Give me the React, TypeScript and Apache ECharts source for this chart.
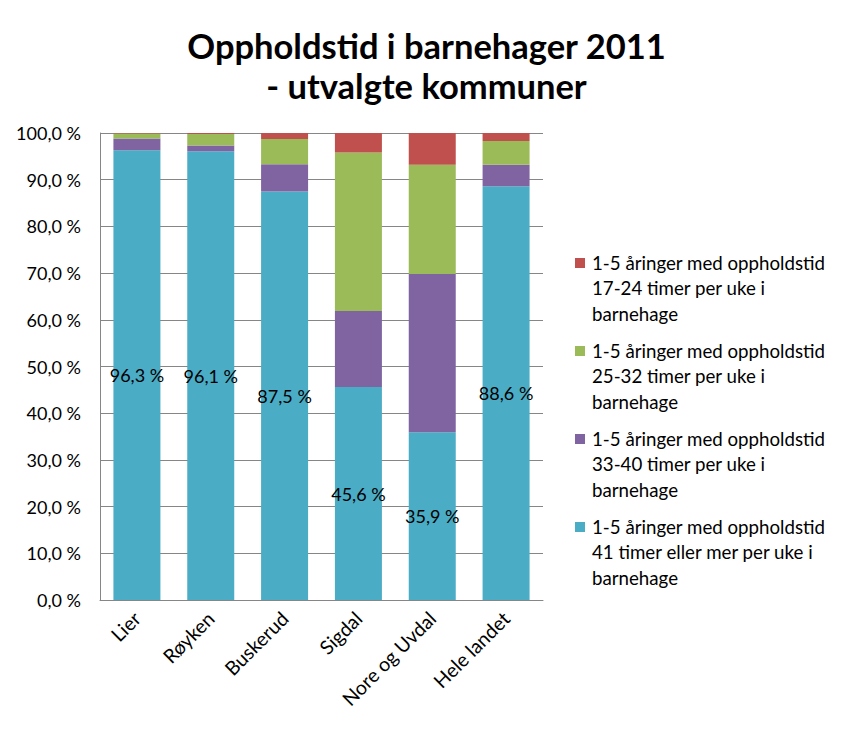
import React, { useEffect, useRef } from "react";
import * as echarts from "echarts";

const categories = ["Lier", "Røyken", "Buskerud", "Sigdal", "Nore og Uvdal", "Hele landet"];
const blue41 = [96.3, 96.1, 87.5, 45.6, 35.9, 88.6];
const purple33 = [2.5, 1.2, 5.8, 16.3, 33.9, 4.6];
const green25 = [1.1, 2.5, 5.4, 33.9, 23.4, 5.1];
const red17 = [0.1, 0.2, 1.3, 4.2, 6.8, 1.7];
const yTicks = [0, 10, 20, 30, 40, 50, 60, 70, 80, 90, 100];

const seriesNames = [
  "1-5 åringer med oppholdstid 41 timer eller mer per uke i barnehage",
  "1-5 åringer med oppholdstid 33-40 timer per uke i barnehage",
  "1-5 åringer med oppholdstid 25-32 timer per uke i barnehage",
  "1-5 åringer med oppholdstid 17-24 timer per uke i barnehage",
];
const legendLines = [
  ["1-5 åringer med oppholdstid", "17-24 timer per uke i", "barnehage"],
  ["1-5 åringer med oppholdstid", "25-32 timer per uke i", "barnehage"],
  ["1-5 åringer med oppholdstid", "33-40 timer per uke i", "barnehage"],
  ["1-5 åringer med oppholdstid", "41 timer eller mer per uke i", "barnehage"],
];
const colors = ["#4BACC6", "#8064A2", "#9BBB59", "#C0504D"];
const legendColors = ["#C0504D", "#9BBB59", "#8064A2", "#4BACC6"];

const FONT = "Lato, 'Open Sans', sans-serif";
const fmt = (v: number) => v.toFixed(1).replace(".", ",") + " %";

export default function App() {
  const ref = useRef<HTMLDivElement>(null);
  useEffect(() => {
    if (!ref.current) return;
    const chart = echarts.init(ref.current, null, { renderer: "svg" });
    const data = [blue41, purple33, green25, red17];
    const graphic: any[] = [];
    legendLines.forEach((lines, i) => {
      const top = 258 + i * 88;
      graphic.push({
        type: "rect",
        shape: { x: 575, y: top, width: 10, height: 10 },
        style: { fill: legendColors[i] },
      });
      graphic.push({
        type: "text",
        x: 592,
        y: top - 8,
        style: {
          text: lines.join("\n"),
          font: `18.7px ${FONT}`,
          lineHeight: 25.5,
          fill: "#000",
        },
      });
    });
    chart.setOption({
      animation: false,
      backgroundColor: "#fff",
      title: {
        text: "Oppholdstid i barnehager 2011\n- utvalgte kommuner",
        left: "center",
        top: 20,
        textStyle: {
          fontFamily: FONT,
          fontWeight: "bold",
          fontSize: 34.5,
          lineHeight: 40,
          color: "#000",
        },
      },
      grid: { left: 100, right: 310, top: 133, bottom: 131 },
      xAxis: {
        type: "category",
        data: categories,
        axisLine: { lineStyle: { color: "#868686" } },
        axisTick: { show: false },
        axisLabel: {
          rotate: 45,
          interval: 0,
          margin: 15,
          color: "#000",
          fontFamily: FONT,
          fontSize: 19.5,
        },
      },
      yAxis: {
        type: "value",
        min: 0,
        max: 100,
        interval: 10,
        axisLine: { show: true, lineStyle: { color: "#868686" } },
        axisTick: { show: false },
        splitLine: { lineStyle: { color: "#868686" } },
        axisLabel: {
          margin: 19,
          color: "#000",
          fontFamily: FONT,
          fontSize: 18,
          formatter: (v: number) => (yTicks.includes(v) ? fmt(v) : ""),
        },
      },
      series: data.map((d, i) => ({
        name: seriesNames[i],
        type: "bar",
        stack: "total",
        barWidth: 47,
        data: d,
        itemStyle: { color: colors[i] },
        label:
          i === 0
            ? {
                show: true,
                position: "inside",
                color: "#000",
                fontFamily: FONT,
                fontSize: 18,
                formatter: (p: any) => fmt(p.value),
              }
            : { show: false },
      })),
      graphic,
    });
    return () => chart.dispose();
  }, []);
  return (
    <div
      ref={ref}
      style={{ position: "fixed", left: 0, top: 0, width: 853, height: 731 }}
    />
  );
}
